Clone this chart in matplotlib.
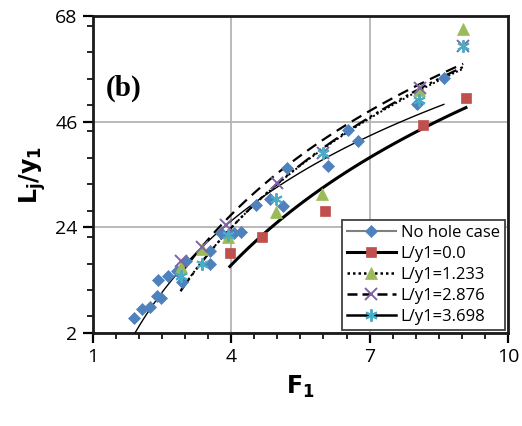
import matplotlib
matplotlib.use("Agg")
import matplotlib.pyplot as plt
import numpy as np
from matplotlib.lines import Line2D
from matplotlib.ticker import MultipleLocator

# ---------------------------------------------------------------------------
# Data
# ---------------------------------------------------------------------------

nohole_x = [1.89, 2.07, 2.24, 2.40, 2.47, 2.41, 2.63, 2.82, 3.02, 2.94, 3.53, 3.55,
            3.77, 4.05, 4.22, 4.54, 4.84, 5.12, 5.20, 6.10, 6.53, 6.74, 8.03, 8.61]
nohole_y = [5.2, 7.0, 7.5, 9.8, 9.3, 13.1, 13.9, 14.9, 17.0, 12.6, 19.2, 16.4,
            22.9, 22.9, 23.0, 28.7, 29.9, 28.5, 36.3, 36.8, 44.3, 42.0, 49.7, 55.1]

l00_x = [3.97, 4.67, 6.03, 8.15, 9.09]
l00_y = [18.6, 22.0, 27.5, 45.3, 51.0]

l1233_x = [2.91, 3.37, 3.92, 4.98, 5.97, 8.07, 9.03]
l1233_y = [15.8, 19.6, 22.0, 27.3, 31.0, 52.7, 65.3]

l2876_x = [2.90, 3.36, 3.88, 4.99, 5.98, 8.09, 9.03]
l2876_y = [17.0, 20.0, 24.5, 33.2, 39.6, 53.0, 61.7]

l3698_x = [2.90, 3.37, 3.93, 4.98, 5.98, 8.07, 9.03]
l3698_y = [13.8, 16.4, 22.5, 29.9, 39.6, 50.6, 61.7]

labels = ["No hole case", "L/y1=0.0", "L/y1=1.233", "L/y1=2.876", "L/y1=3.698"]

x_ticks = [1, 4, 7, 10]
y_ticks = [2, 24, 46, 68]

# ---------------------------------------------------------------------------
# Styles
# ---------------------------------------------------------------------------

series = [
    # x, y, marker, colour, size, line width, plot style, legend style
    (nohole_x, nohole_y, "D", "#4F81BD", 6.5, 1.0, "-", "-"),
    (l00_x, l00_y, "s", "#C0504D", 7.5, 2.2, "-", "-"),
    (l1233_x, l1233_y, "^", "#9BBB59", 8, 1.4, (0, (1, 1.2)), (0, (1, 1.2))),
    (l2876_x, l2876_y, "x", "#8064A2", 8, 1.6, (0, (5, 3)), (0, (4, 2))),
    (l3698_x, l3698_y, (6, 2, 0), "#4BACC6", 9, 1.6,
     (0, (7, 2, 1.2, 2, 1.2, 2)), "-"),
]


def log_trend(x, y):
    """Excel-like logarithmic trendline over the data range."""
    x = np.asarray(x)
    a, b = np.polyfit(np.log(x), np.asarray(y), 1)
    xs = np.linspace(x.min(), x.max(), 100)
    return xs, a * np.log(xs) + b


plt.rcParams["mathtext.fontset"] = "dejavusans"

fig = plt.figure(figsize=(5.22, 4.26), dpi=100)
ax = fig.add_axes([0.178, 0.218, 0.795, 0.744])

handles = []
for (x, y, marker, color, ms, lw, ls, leg_ls), label in zip(series, labels):
    xs, ys = log_trend(x, y)
    ax.plot(xs, ys, color="black", lw=lw, linestyle=ls, zorder=3)
    mew = 1.4 if marker == "x" or isinstance(marker, tuple) else 0.5
    ax.plot(x, y, linestyle="none", marker=marker, color=color, markersize=ms,
            markeredgecolor=color, markeredgewidth=mew, zorder=4)
    line_color = "#808080" if label == "No hole case" else "black"
    line_width = 1.5 if label == "No hole case" else max(lw, 1.8)
    handles.append(Line2D([], [], color=line_color, lw=line_width,
                          linestyle=leg_ls, marker=marker,
                          markerfacecolor=color, markeredgecolor=color,
                          markersize=ms, markeredgewidth=mew))

ax.set_xlim(1, 10)
ax.set_ylim(2, 68)
ax.set_xticks(x_ticks)
ax.set_yticks(y_ticks)
ax.xaxis.set_minor_locator(MultipleLocator(0.5))
ax.yaxis.set_minor_locator(MultipleLocator(5.5))
ax.grid(True, which="major", color="#b4b4b4", lw=1.3)
ax.set_axisbelow(True)

for spine in ax.spines.values():
    spine.set_linewidth(2.0)
    spine.set_color("#1a1a1a")

ax.tick_params(which="major", direction="out", length=7, width=1.6,
               labelsize=14, pad=4)
ax.tick_params(which="minor", direction="out", length=4, width=1.2)
for lab in ax.get_xticklabels() + ax.get_yticklabels():
    lab.set_fontfamily("Open Sans")

ax.set_xlabel(r"$\mathbf{F_1}$", fontsize=17, labelpad=5)
ax.set_ylabel(r"$\mathbf{L_j/y_1}$", fontsize=17, labelpad=5)

ax.text(1.28, 53, "(b)", fontsize=21, fontweight="bold",
        fontfamily="Liberation Serif", va="center", ha="left")

leg = ax.legend(handles, labels, loc="lower right",
                frameon=True, fancybox=False, borderpad=0.3,
                labelspacing=0.3, handlelength=2.9, handletextpad=0.3,
                borderaxespad=0.2, prop={"family": "Open Sans", "size": 12})
leg.get_frame().set_edgecolor("#404040")
leg.get_frame().set_linewidth(1.3)
leg.get_frame().set_alpha(1)

fig.savefig("out.png", dpi=100)
